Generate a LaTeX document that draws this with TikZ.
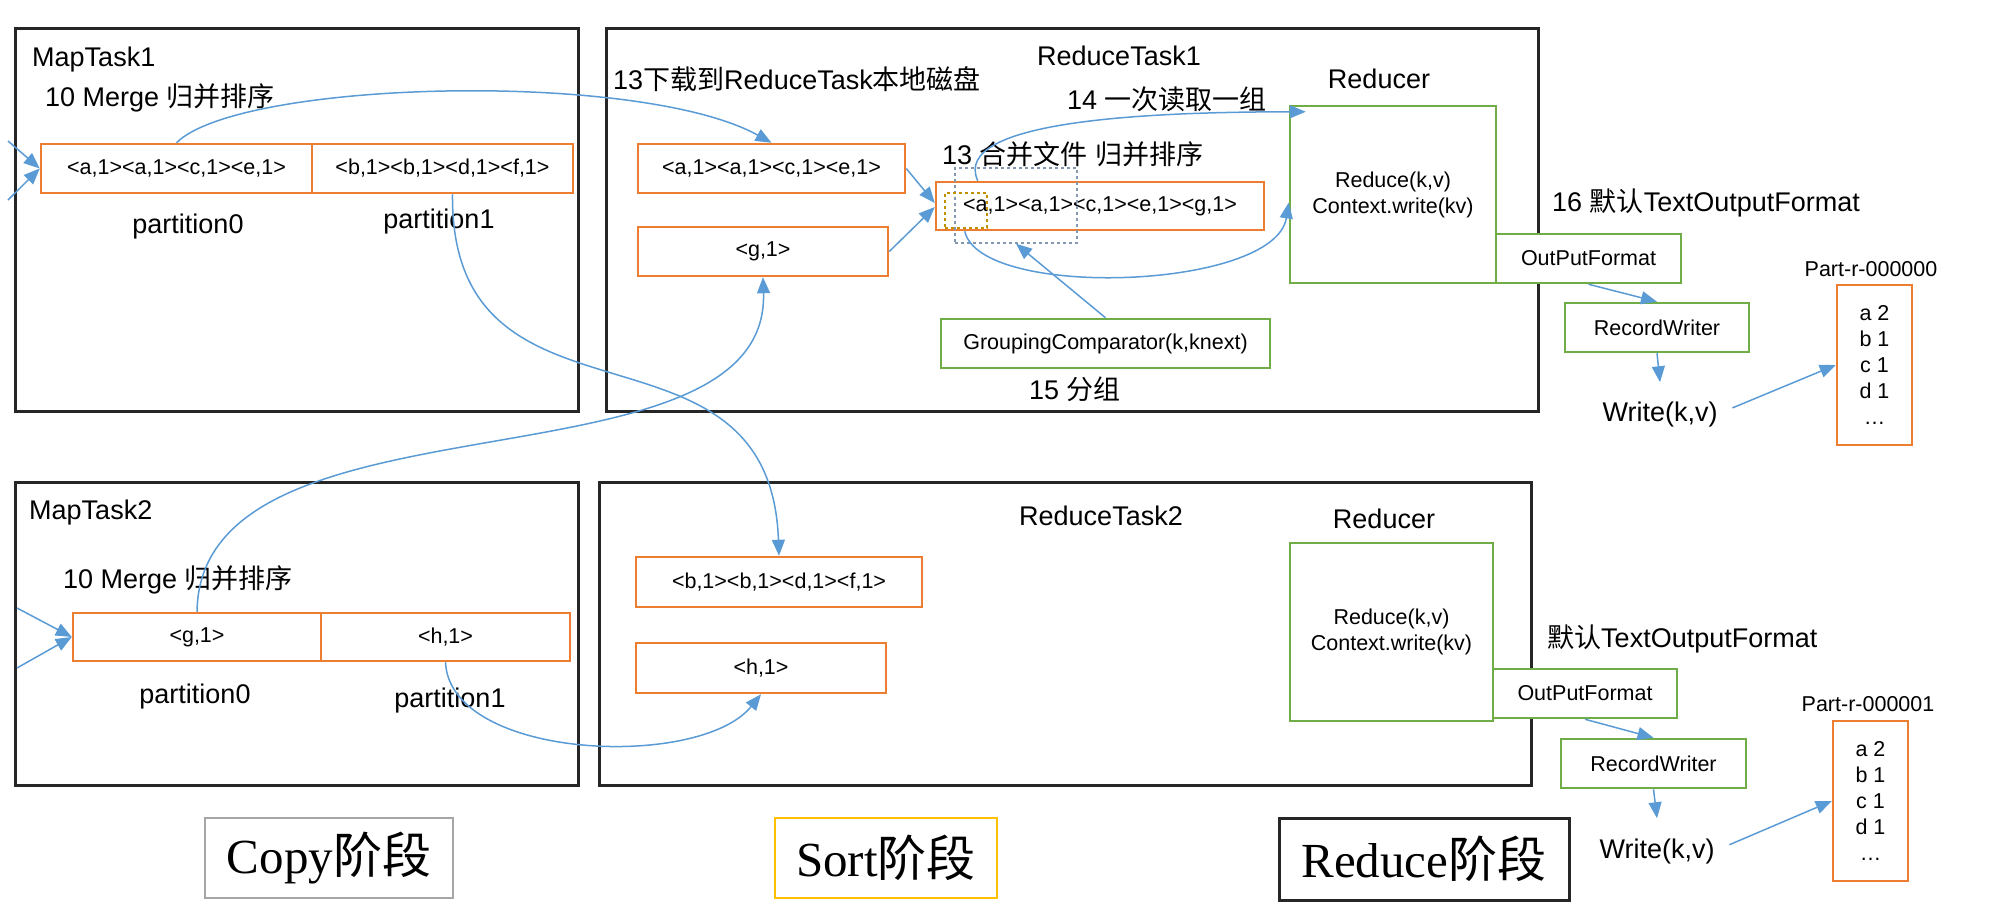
\documentclass[tikz,border=0pt]{standalone}
\usepackage{fontspec}
\setmainfont{Liberation Sans}
\newfontfamily\cjk{Noto Sans CJK SC}
\newfontfamily\phasefont{Liberation Serif}
\usepackage{tikz}
\usetikzlibrary{arrows.meta}
\definecolor{boxorange}{HTML}{ED7D31}
\definecolor{boxgreen}{HTML}{70AD47}
\definecolor{flowblue}{HTML}{5B9BD5}
\definecolor{phasegray}{HTML}{A6A6A6}
\definecolor{phaseyellow}{HTML}{FFC000}
\definecolor{slategray}{HTML}{8497B0}
\definecolor{darkgold}{HTML}{BF9000}
\newcommand{\zh}[1]{{\cjk #1}}

\begin{document}
\begin{tikzpicture}[x=1pt,y=-1pt,
	task/.style={draw=black!85,line width=3pt,inner sep=0pt},
	kv/.style={draw=boxorange,line width=2.5pt,inner sep=0pt,font=\fontsize{21.5}{26}\selectfont},
	op/.style={draw=boxgreen,line width=2.5pt,inner sep=0pt,align=center,font=\fontsize{21.5}{26}\selectfont},
	big/.style={inner sep=0pt,font=\fontsize{27}{32}\selectfont},
	small/.style={inner sep=0pt,font=\fontsize{21.5}{26}\selectfont},
	phase/.style={line width=2.5pt,inner sep=0pt,font=\phasefont\fontsize{49}{55}\selectfont},
	flow/.style={flowblue,line width=1.5pt,-{Triangle[length=16pt,width=13pt]}}]

	\useasboundingbox (0,0) rectangle (2000,918);

	\node[task,minimum width=563pt,minimum height=383pt] (mt1) at (296.5,219.5) {};
	\node[task,minimum width=932pt,minimum height=383pt] (rt1) at (1072,219.5) {};
	\node[task,minimum width=563pt,minimum height=303pt] (mt2) at (296.5,633.5) {};
	\node[task,minimum width=932pt,minimum height=303pt] (rt2) at (1065,633.5) {};

	\node[big,anchor=base west] (mt1name) at (32,66) {MapTask1};
	\node[big,anchor=base west] (mt1merge) at (45,106) {10 Merge \zh{归并排序}};
	\node[kv,minimum width=271pt,minimum height=49pt] (p10) at (176.5,168.5) {<a,1><a,1><c,1><e,1>};
	\node[kv,minimum width=261pt,minimum height=49pt] (p11) at (442.5,168.5) {<b,1><b,1><d,1><f,1>};
	\node[big,anchor=base] (p10name) at (188,233) {partition0};
	\node[big,anchor=base] (p11name) at (439,228) {partition1};
	\coordinate (in10) at (8,141);
	\coordinate (in11) at (8,200);

	\node[big,anchor=base west] (mt2name) at (29,519) {MapTask2};
	\node[big,anchor=base west] (mt2merge) at (63,588) {10 Merge \zh{归并排序}};
	\node[kv,minimum width=248pt,minimum height=48pt] (p20) at (197,637) {<g,1>};
	\node[kv,minimum width=249pt,minimum height=48pt] (p21) at (445.5,637) {<h,1>};
	\node[big,anchor=base] (p20name) at (195,703) {partition0};
	\node[big,anchor=base] (p21name) at (450,707) {partition1};
	\coordinate (in20) at (17,608);
	\coordinate (in21) at (17,668);

	\node[big,anchor=base] (rt1name) at (1119,65) {ReduceTask1};
	\node[big,anchor=base west] (dl) at (613,89) {13\zh{下载到}ReduceTask\zh{本地磁盘}};
	\node[big,anchor=base west] (readgrp) at (1067,109) {14 \zh{一次读取一组}};
	\node[big,anchor=base west] (mgname) at (942,164) {13 \zh{合并文件} \zh{归并排序}};
	\node[kv,minimum width=267pt,minimum height=49pt] (ra) at (771.5,168.5) {<a,1><a,1><c,1><e,1>};
	\node[kv,minimum width=250pt,minimum height=49pt] (rg) at (763,251.5) {<g,1>};
	\node[kv,minimum width=328pt,minimum height=48pt] (mg) at (1100,206) {<a,1><a,1><c,1><e,1><g,1>};
	\node[draw=slategray,line width=1.5pt,dashed,inner sep=0pt,minimum width=122pt,minimum height=75pt] (gr) at (1016,205.5) {};
	\node[draw=darkgold,line width=1.5pt,dashed,inner sep=0pt,minimum width=42pt,minimum height=35pt] (yr) at (966,210.5) {};
	\node[op,minimum width=329pt,minimum height=49pt] (gc) at (1105.5,343.5) {GroupingComparator(k,knext)};
	\node[big,anchor=base west] (grp) at (1029,399) {15 \zh{分组}};
	\node[big,anchor=base] (rd1name) at (1379,88) {Reducer};
	\node[op,minimum width=206pt,minimum height=177pt] (rd1) at (1393,194.5) {Reduce(k,v)\\Context.write(kv)};
	\node[big,anchor=base west] (fmt1) at (1552,211) {16 \zh{默认}TextOutputFormat};
	\node[op,fill=white,minimum width=185pt,minimum height=49pt] (of1) at (1588.5,258.5) {OutPutFormat};
	\node[op,minimum width=184pt,minimum height=49pt] (rw1) at (1657,327.5) {RecordWriter};
	\node[big,anchor=base] (wr1) at (1660,421) {Write(k,v)};
	\node[small,anchor=base] (pn1) at (1871,276) {Part-r-000000};
	\node[kv,align=center,minimum width=75pt,minimum height=160pt] (pt1) at (1874.5,365) {a 2\\b 1\\c 1\\d 1\\\ldots};

	\node[big,anchor=base] (rt2name) at (1101,525) {ReduceTask2};
	\node[kv,minimum width=286pt,minimum height=50pt] (rb) at (779,582) {<b,1><b,1><d,1><f,1>};
	\node[kv,minimum width=250pt,minimum height=50pt] (rh) at (761,668) {<h,1>};
	\node[big,anchor=base] (rd2name) at (1384,528) {Reducer};
	\node[op,minimum width=203pt,minimum height=178pt] (rd2) at (1391.5,632) {Reduce(k,v)\\Context.write(kv)};
	\node[big,anchor=base west] (fmt2) at (1547,647) {\zh{默认}TextOutputFormat};
	\node[op,fill=white,minimum width=184pt,minimum height=49pt] (of2) at (1585,693.5) {OutPutFormat};
	\node[op,minimum width=185pt,minimum height=49pt] (rw2) at (1653.5,763.5) {RecordWriter};
	\node[big,anchor=base] (wr2) at (1657,858) {Write(k,v)};
	\node[small,anchor=base] (pn2) at (1868,711) {Part-r-000001};
	\node[kv,align=center,minimum width=75pt,minimum height=160pt] (pt2) at (1870.5,801) {a 2\\b 1\\c 1\\d 1\\\ldots};

	\node[phase,draw=phasegray,minimum width=248pt,minimum height=80pt] (copy) at (329,858) {Copy\zh{阶段}};
	\node[phase,draw=phaseyellow,minimum width=222pt,minimum height=80pt] (sort) at (886,858) {Sort\zh{阶段}};
	\node[phase,draw=black!85,line width=3pt,minimum width=290pt,minimum height=82pt] (reduce) at (1424,859) {Reduce\zh{阶段}};

	\draw[flow] (in10) -- (p10.west);
	\draw[flow] (in11) -- (p10.west);
	\draw[flow] (in20) -- (p20.west);
	\draw[flow] (in21) -- (p20.west);
	\draw[flow] (p10.north) .. controls (240,80) and (640,70) .. (ra.north);
	\draw[flow] ([xshift=10pt]p11.south) .. controls (450,450) and (770,300) .. (rb.north);
	\draw[flow] (p20.north) .. controls (200,380) and (770,500) .. (rg.south);
	\draw[flow] (p21.south) .. controls (450,760) and (700,770) .. (rh.south);

	\draw[flow] (ra.east) -- ([yshift=3pt]mg.west);
	\draw[flow] (rg.east) -- ([yshift=-1pt]mg.west);
	\draw[flow] (gc.north) -- (gr.south);
	\draw[flow] ([xshift=43pt]mg.north west) .. controls (950,120) and (1150,112) .. ([xshift=17pt,yshift=-7pt]rd1.north west);
	\draw[flow] ([xshift=30pt]mg.south west) .. controls (980,300) and (1275,290) .. ([yshift=-8pt]rd1.west);

	\draw[flow] (of1.south) -- (rw1.north);
	\draw[flow] (rw1.south) -- ([yshift=19pt]wr1.north);
	\draw[flow,shorten <=16pt] (wr1.east) -- (pt1.west);
	\draw[flow] (of2.south) -- (rw2.north);
	\draw[flow] (rw2.south) -- ([yshift=20pt]wr2.north);
	\draw[flow,shorten <=16pt] (wr2.east) -- (pt2.west);

\end{tikzpicture}
\end{document}
